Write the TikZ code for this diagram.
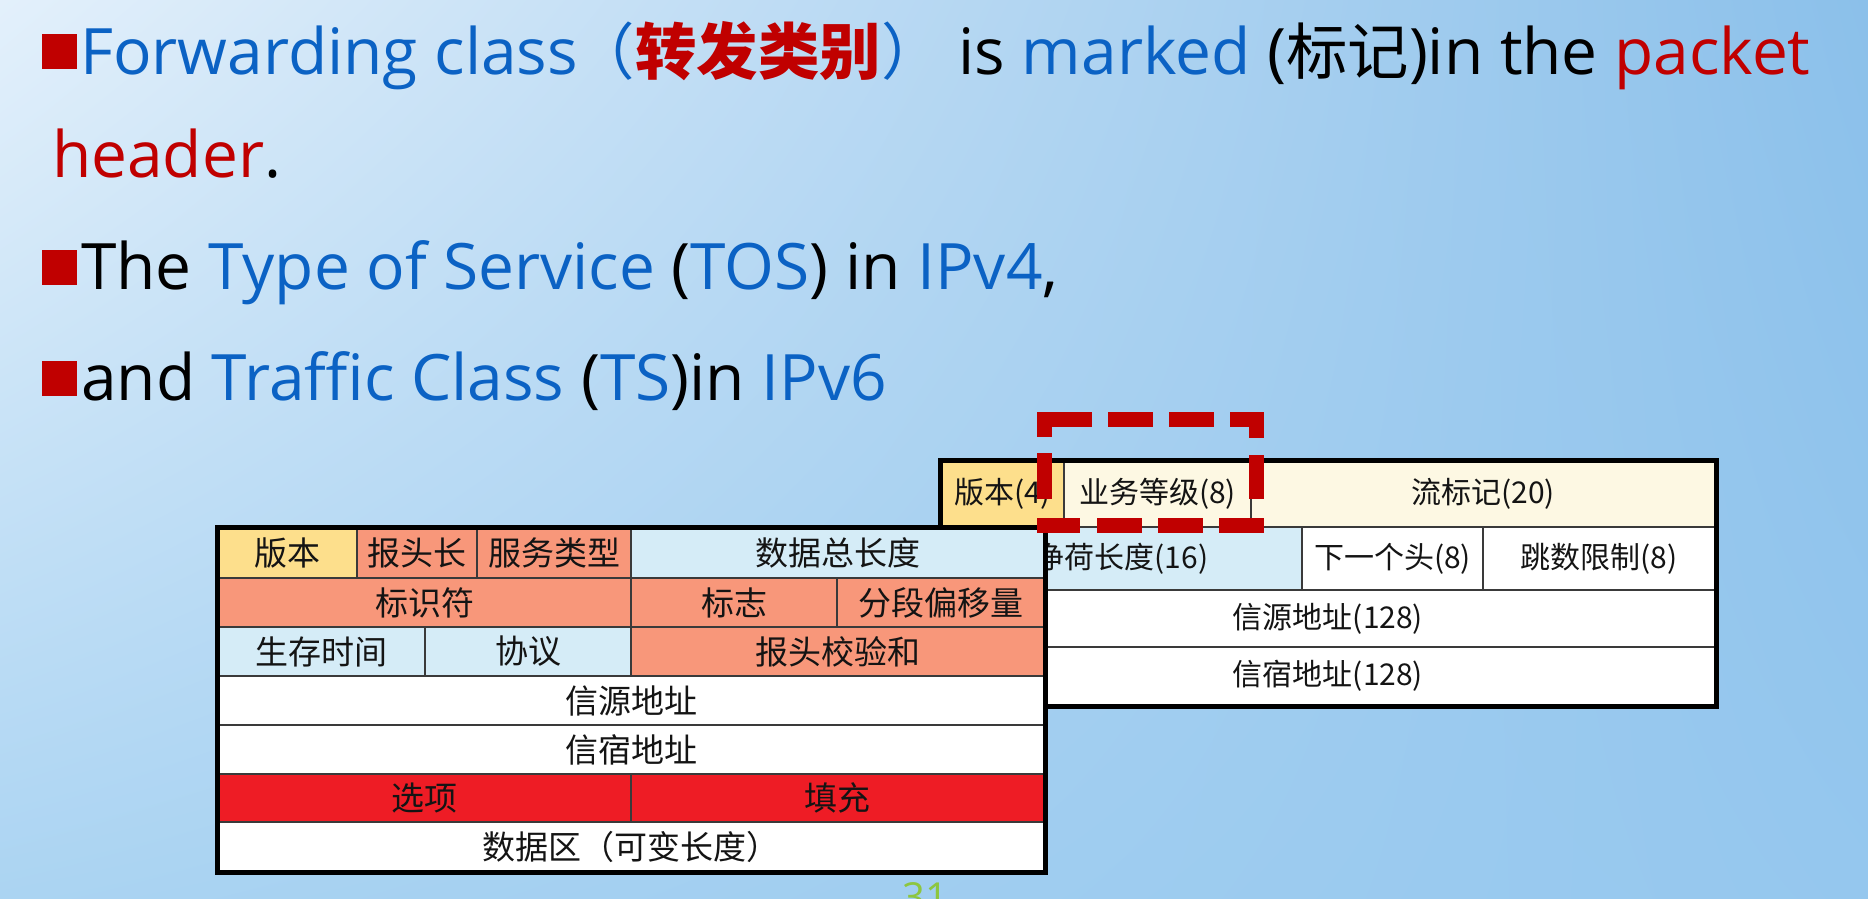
\documentclass[tikz,border=0pt]{standalone}
\usepackage{fontspec}
\setmainfont{Open Sans}
\newfontfamily\cjk{Noto Sans CJK SC}
\newfontfamily\cjkt{Noto Sans CJK SC}[Scale=0.96]
\usetikzlibrary{fit,shadings}

\definecolor{bgTL}{HTML}{E3F0FB}
\definecolor{bgTR}{HTML}{8BC0EA}
\definecolor{bgBL}{HTML}{ABD4F2}
\definecolor{bgBR}{HTML}{95C7EE}
\definecolor{tblue}{HTML}{0B62C4}
\definecolor{tred}{HTML}{C00000}
\definecolor{cyellow}{HTML}{FDDF8C}
\definecolor{csalmon}{HTML}{F8977A}
\definecolor{clblue}{HTML}{D5ECF7}
\definecolor{cred}{HTML}{EE1C25}
\definecolor{ccream}{HTML}{FDF8E3}
\definecolor{cline}{HTML}{3A3A3A}
\definecolor{pgreen}{HTML}{8DC63F}

% a table field: name, x1, y1, x2, y2, fill, text
\newcommand\fcell[7]{%
  \node[cell, fill=#6, minimum width={(#4-#2)*1pt}, minimum height={(#5-#3)*1pt}]
    (#1) at ({(#2+#4)/2},{(#3+#5)/2}) {#7};}

\begin{document}
\begin{tikzpicture}[x=1pt, y=-1pt,
  line/.style={anchor=base west, inner sep=0pt, font=\fontsize{64}{70}\selectfont},
  bullet/.style={fill=tred, minimum width=35pt, minimum height=35pt, inner sep=0pt, anchor=south west},
  cellbase/.style={draw=cline, line width=2pt, inner sep=0pt, text=black!92},
  frame/.style={draw=black, line width=5pt, inner sep=0pt},
  tosdash/.style={draw=tred, line width=15pt}]

\useasboundingbox (0,0) rectangle (1868,898);
\clip (0,0) rectangle (1868,898);
\shade[upper left=bgTL, upper right=bgTR, lower left=bgBL, lower right=bgBR]
  (0,0) rectangle (1868,898);

% bullet points
\node[bullet] (b1) at (42,69) {};
\node[bullet] (b3) at (42,285) {};
\node[bullet] (b4) at (42,396) {};

\node[line] (l1) at (80,74) {\color{tblue}Forwarding class{\cjkt\hspace{-4pt}（}{\color{tred}\cjkt\bfseries 转发类别}{\cjkt）}\hspace{16pt}\color{black}is \color{tblue}marked \color{black}({\cjkt 标记})in the \color{tred}packet};
\node[line] (l2) at (52,177) {\color{tred}header\color{black}.};
\node[line] (l3) at (81,289) {The \color{tblue}Type of Service \color{black}(\color{tblue}TOS\color{black}) in \color{tblue}IPv4\color{black},};
\node[line] (l4) at (81,400) {and \color{tblue}Traffic Class \color{black}(\color{tblue}TS\color{black})in \color{tblue}IPv6};

% IPv6 header
\begin{scope}[cell/.style={cellbase, font=\cjk\fontsize{30}{30}\selectfont}]
\fcell{v6ver}{941}{461}{1064}{527}{cyellow}{版本(4)}
\fcell{v6tc}{1064}{461}{1251}{527}{ccream}{业务等级(8)}
\fcell{v6fl}{1251}{461}{1715}{527}{ccream}{流标记(20)}
\fcell{v6plen}{941}{527}{1302}{590}{clblue}{净荷长度(16)}
\fcell{v6nh}{1302}{527}{1483}{590}{white}{下一个头(8)}
\fcell{v6hop}{1483}{527}{1715}{590}{white}{跳数限制(8)}
\fcell{v6src}{941}{590}{1715}{647}{white}{信源地址(128)}
\fcell{v6dst}{941}{647}{1715}{705}{white}{信宿地址(128)}
\end{scope}
\node[frame, fit=(v6ver.north west)(v6dst.south east)] (v6box) {};

% IPv4 header
\begin{scope}[cell/.style={cellbase, font=\cjk\fontsize{33}{33}\selectfont}]
\fcell{v4ver}{218}{528}{357}{578}{cyellow}{版本}
\fcell{v4ihl}{357}{528}{477}{578}{csalmon}{报头长}
\fcell{v4tos}{477}{528}{631}{578}{csalmon}{服务类型}
\fcell{v4len}{631}{528}{1044}{578}{clblue}{数据总长度}
\fcell{v4id}{218}{578}{631}{627}{csalmon}{标识符}
\fcell{v4flag}{631}{578}{837}{627}{csalmon}{标志}
\fcell{v4frag}{837}{578}{1044}{627}{csalmon}{分段偏移量}
\fcell{v4ttl}{218}{627}{425}{676}{clblue}{生存时间}
\fcell{v4proto}{425}{627}{631}{676}{clblue}{协议}
\fcell{v4csum}{631}{627}{1044}{676}{csalmon}{报头校验和}
\fcell{v4src}{218}{676}{1044}{725}{white}{信源地址}
\fcell{v4dst}{218}{725}{1044}{774}{white}{信宿地址}
\fcell{v4opt}{218}{774}{631}{822}{cred}{选项}
\fcell{v4pad}{631}{774}{1044}{822}{cred}{填充}
\fcell{v4data}{218}{822}{1044}{871}{white}{数据区（可变长度）}
\end{scope}
\node[frame, fit=(v4ver.north west)(v4data.south east)] (v4box) {};

% dashed marker around the traffic class field
\node[inner sep=0pt, fit={(1045,420)(1256,525)}] (tos) {};
\draw[tosdash, dash pattern=on 55pt off 16pt on 45pt off 16pt on 45pt off 16pt on 34pt]
  ([xshift=-7.5pt]tos.north west) -- ([xshift=7.5pt]tos.north east);
\draw[tosdash, dash pattern=on 43pt off 17pt on 45pt off 16pt on 45pt off 16pt on 45pt]
  ([xshift=-7.5pt]tos.south west) -- ([xshift=7.5pt]tos.south east);
\draw[tosdash, dash pattern=on 25pt off 16pt on 46pt off 19pt on 15pt]
  ([yshift=7.5pt]tos.north west) -- ([yshift=-7.5pt]tos.south west);
\draw[tosdash, dash pattern=on 26pt off 17pt on 44pt off 19pt on 15pt]
  ([yshift=7.5pt]tos.north east) -- ([yshift=-7.5pt]tos.south east);

% slide number, cut by the lower edge
\node[anchor=north, inner sep=0pt, text=pgreen, font=\fontsize{40}{40}\selectfont] (pg) at (925,882) {31};
\end{tikzpicture}
\end{document}
